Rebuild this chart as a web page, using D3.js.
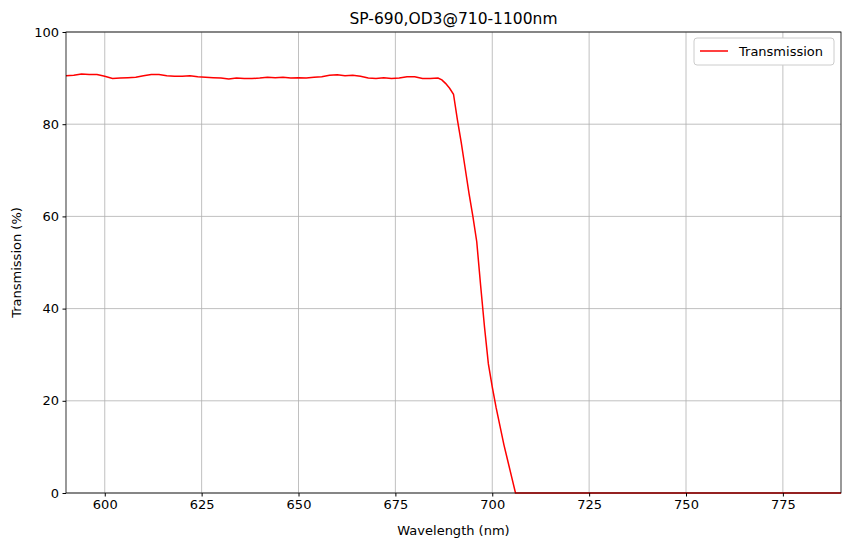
<!DOCTYPE html><html><head><meta charset="utf-8"><script src="https://d3js.org/d3.v7.min.js"></script>
<style>body{margin:0;background:#fff}text{font-family:"DejaVu Sans",sans-serif}</style></head><body><svg id="c" width="850" height="547"></svg>
<script>
const wl=[590,592,594,596,598,600,602,604,606,608,610,612,614,616,618,620,622,624,626,628,630,632,634,636,638,640,642,644,646,648,650,652,654,656,658,660,662,664,666,668,670,672,674,676,678,680,682,684,686,687,688,689,690,691,692,693,694,695,696,697,698,699,700,701,702,703,704,705,706,720,740,760,790];
const tr=[90.5,90.6,90.9,90.8,90.8,90.4,89.9,90.0,90.1,90.2,90.5,90.8,90.8,90.5,90.4,90.4,90.5,90.3,90.2,90.1,90.0,89.8,90.0,89.9,89.9,90.0,90.2,90.1,90.2,90.0,90.1,90.0,90.2,90.3,90.6,90.7,90.5,90.6,90.4,90.0,89.9,90.1,89.9,90.0,90.3,90.3,89.9,89.9,90.0,89.6,88.8,87.8,86.5,81,76,70.5,65,60,54.5,45,36,28,23,18.5,14.5,10.5,7,3.5,0,0,0,0,0];
const xTicks=[600,625,650,675,700,725,750,775];
const yTicks=[0,20,40,60,80,100];
const svg=d3.select("#c"),L=66,R=841,T=32,B=493;
const x=d3.scaleLinear().domain([590,790]).range([L,R]);
const y=d3.scaleLinear().domain([0,100]).range([B,T]);
const g=svg.append("g");
xTicks.forEach(v=>g.append("line").attr("x1",x(v)).attr("x2",x(v)).attr("y1",T).attr("y2",B).attr("stroke","#b0b0b0").attr("stroke-width",0.8));
yTicks.forEach(v=>g.append("line").attr("x1",L).attr("x2",R).attr("y1",y(v)).attr("y2",y(v)).attr("stroke","#b0b0b0").attr("stroke-width",0.8));
svg.append("path").datum(wl.map((w,i)=>[w,tr[i]])).attr("fill","none").attr("stroke","red").attr("stroke-width",1.5)
 .attr("d",d3.line().x(d=>x(d[0])).y(d=>y(d[1])));
svg.append("rect").attr("x",L).attr("y",T).attr("width",R-L).attr("height",B-T).attr("fill","none").attr("stroke","#000").attr("stroke-width",0.8);
const xa=svg.append("g").attr("transform",`translate(0,${B})`).call(d3.axisBottom(x).tickValues(xTicks).tickSize(3.5).tickPadding(3.5));
const ya=svg.append("g").attr("transform",`translate(${L},0)`).call(d3.axisLeft(y).tickValues(yTicks).tickSize(3.5).tickPadding(3.5));
[xa,ya].forEach(a=>{a.select(".domain").remove();a.selectAll("text").attr("font-size",13).attr("font-family","DejaVu Sans").attr("fill","#000");a.selectAll("line").attr("stroke","#000");});
svg.append("text").attr("x",(L+R)/2).attr("y",24).attr("text-anchor","middle").attr("font-size",15.5).text("SP-690,OD3@710-1100nm");
svg.append("text").attr("x",(L+R)/2).attr("y",535).attr("text-anchor","middle").attr("font-size",13).text("Wavelength (nm)");
svg.append("text").attr("transform",`translate(21,${(T+B)/2}) rotate(-90)`).attr("text-anchor","middle").attr("font-size",13).text("Transmission (%)");
const lg=svg.append("g");
lg.append("rect").attr("x",694).attr("y",38).attr("width",140).attr("height",27).attr("rx",3).attr("fill","#fff").attr("stroke","#ccc");
lg.append("line").attr("x1",700).attr("x2",728).attr("y1",51).attr("y2",51).attr("stroke","red").attr("stroke-width",1.5);
lg.append("text").attr("x",739).attr("y",56).attr("font-size",13).text("Transmission");
</script></body></html>
